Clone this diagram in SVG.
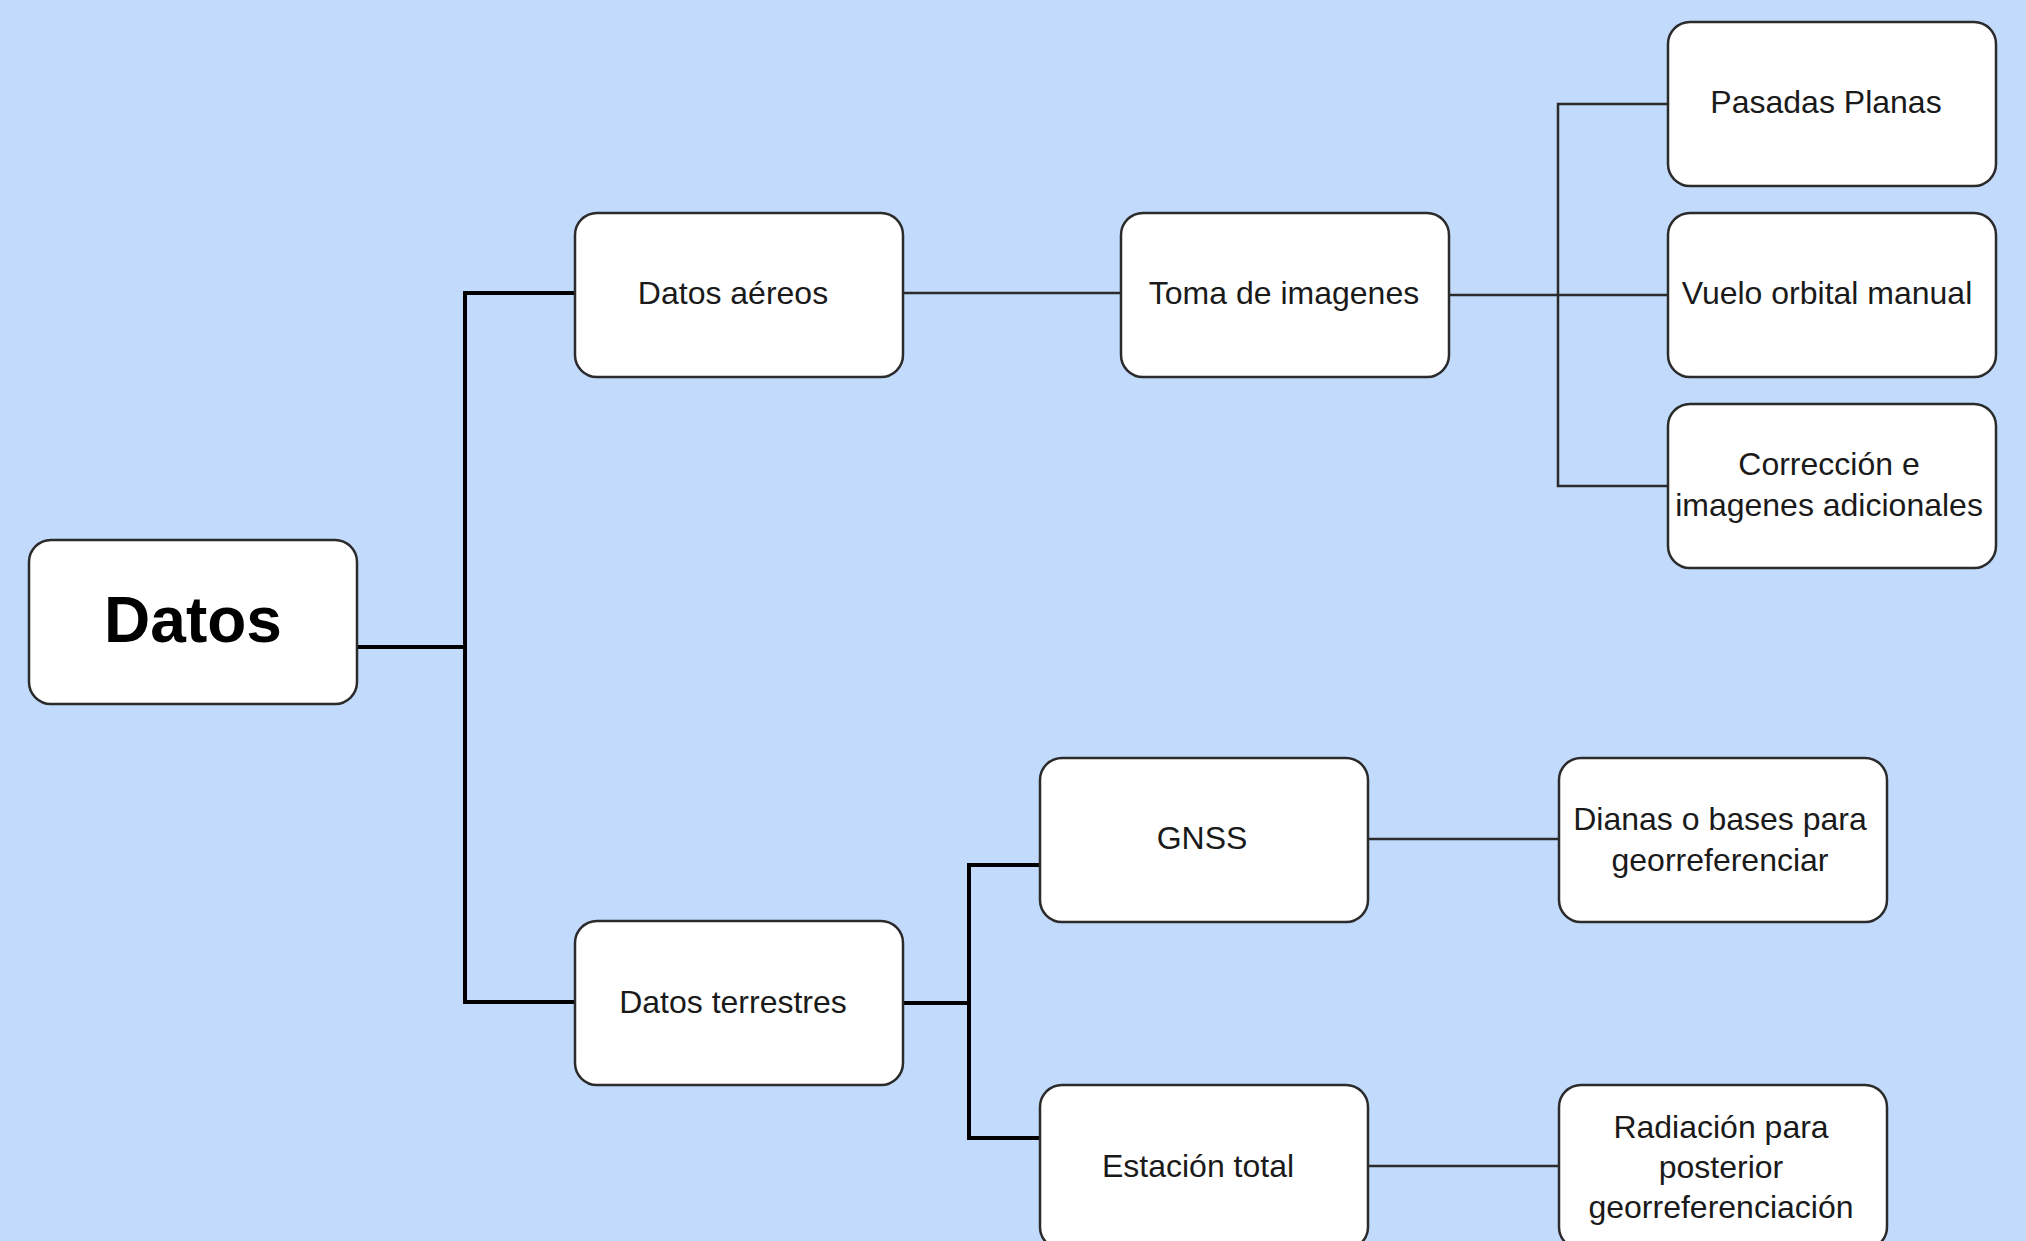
<svg xmlns="http://www.w3.org/2000/svg" width="2026" height="1241" viewBox="0 0 2026 1241">
<style>
.box{fill:#ffffff;stroke:#2b2b2b;stroke-width:2.5}
.t{font-family:"Liberation Sans",Arial,sans-serif;font-size:32px;fill:#1a1a1a;text-anchor:middle}
.big{font-family:"Liberation Sans",Arial,sans-serif;font-size:64px;font-weight:bold;fill:#000;text-anchor:middle}
.thick{fill:none;stroke:#000;stroke-width:4}
.thin{fill:none;stroke:#2b2b2b;stroke-width:2.5}
</style>
<rect width="2026" height="1241" fill="#c2dbfc"/>
<g id="connectors">
<path class="thick" d="M357 647 H465"/>
<path class="thick" d="M575 293 H465 V1002 H575"/>
<path class="thin" d="M903 293 H1121"/>
<path class="thin" d="M1449 295 H1668"/>
<path class="thin" d="M1668 104 H1558 V486 H1668"/>
<path class="thick" d="M903 1003 H969"/>
<path class="thick" d="M1040 865 H969 V1138 H1040"/>
<path class="thin" d="M1368 839 H1559"/>
<path class="thin" d="M1368 1166 H1559"/>
</g>
<g id="datos"><rect class="box" x="29" y="540" width="328" height="164" rx="22"/><text class="big" x="193" y="642">Datos</text></g>
<g id="datos-aereos"><rect class="box" x="575" y="213" width="328" height="164" rx="22"/><text class="t" x="733" y="304">Datos aéreos</text></g>
<g id="toma-imagenes"><rect class="box" x="1121" y="213" width="328" height="164" rx="22"/><text class="t" x="1284" y="304">Toma de imagenes</text></g>
<g id="pasadas-planas"><rect class="box" x="1668" y="22" width="328" height="164" rx="22"/><text class="t" x="1826" y="113">Pasadas Planas</text></g>
<g id="vuelo-orbital"><rect class="box" x="1668" y="213" width="328" height="164" rx="22"/><text class="t" x="1827" y="304">Vuelo orbital manual</text></g>
<g id="correccion"><rect class="box" x="1668" y="404" width="328" height="164" rx="22"/><text class="t" x="1829" y="475">Corrección e</text><text class="t" x="1829" y="516">imagenes adicionales</text></g>
<g id="datos-terrestres"><rect class="box" x="575" y="921" width="328" height="164" rx="22"/><text class="t" x="733" y="1013">Datos terrestres</text></g>
<g id="gnss"><rect class="box" x="1040" y="758" width="328" height="164" rx="22"/><text class="t" x="1202" y="849">GNSS</text></g>
<g id="dianas"><rect class="box" x="1559" y="758" width="328" height="164" rx="22"/><text class="t" x="1720" y="830">Dianas o bases para</text><text class="t" x="1720" y="871">georreferenciar</text></g>
<g id="estacion-total"><rect class="box" x="1040" y="1085" width="328" height="164" rx="22"/><text class="t" x="1198" y="1177">Estación total</text></g>
<g id="radiacion"><rect class="box" x="1559" y="1085" width="328" height="164" rx="22"/><text class="t" x="1721" y="1138">Radiación para</text><text class="t" x="1721" y="1178">posterior</text><text class="t" x="1721" y="1218">georreferenciación</text></g>
</svg>
